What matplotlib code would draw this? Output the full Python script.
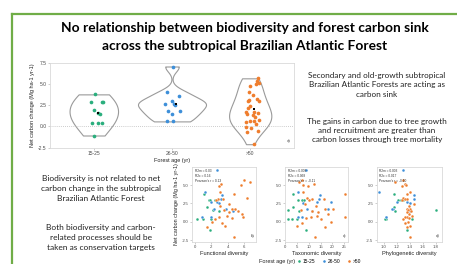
import numpy as np
import matplotlib
matplotlib.use("Agg")
import matplotlib.pyplot as plt
from matplotlib.lines import Line2D

W, H = 457, 264

# ---------------- data ----------------
ages = ["15-25", "26-50", ">50"]
colors = ["#2aae7d", "#3d8fd9", "#ef7d2d"]

y_young = [3.8, 2.9, 2.95, 2.95, 1.98, 1.6, 1.5, 0.36, 0.36, 0.36, -1.07]
y_mid = [7.1, 4.05, 3.65, 3.05, 2.7, 2.7, 2.6, 1.8, 1.45, 1.8, 0.6, 0.7]
y_old = [5.7, 5.35, 5.15, 5.05, 4.85, 4.1, 3.75, 3.2, 3.05, 3.1, 2.97, 2.45,
         2.15, 1.7, 1.7, 1.63, 1.43, 1.3, 1.1, 0.8, 0.63, 0.6, 0.5, 0.32,
         -0.08, -0.2, -0.55, -0.7, -2.1]

jit_young = [0.01, -0.03, 0.10, 0.115, 0.0, 0.05, 0.08, -0.02, 0.05, 0.10, 0.0]
jit_mid = [0.01, -0.06, 0.09, 0.0, -0.09, 0.02, 0.04, -0.05, 0.0, 0.10, -0.06, 0.01]
jit_old = [0.10, 0.09, 0.115, 0.08, 0.0, -0.01, 0.04, 0.09, 0.11, -0.01, -0.03, 0.0,
           -0.03, -0.05, 0.05, 0.10, -0.04, 0.03, 0.06, 0.11, 0.05, 0.0, -0.06, 0.07,
           -0.05, 0.01, 0.10, -0.04, 0.05]

fd_young = [1.1, 1.65, 2.4, 1.8, 1.45, 2.25, 2.9, 0.3, 0.95, 1.9, 1.8]
fd_mid = [2.66, 1.23, 3.27, 3.19, 2.74, 1.9, 2.9, 2.33, 4.62, 3.76, 0.9, 1.92]
fd_old = [5.93, 6.75, 3.19, 5.64, 2.98, 3.0, 4.79, 6.34, 2.8, 3.4, 2.6, 4.09,
          3.1, 4.5, 4.91, 3.6, 5.3, 4.2, 5.8, 3.9, 5.85, 2.9, 4.5, 2.45,
          2.04, 3.3, 3.68, 1.51, 4.82]

td_young = [3.4, 7.1, 5.2, 8.0, 3.1, 0.9, 5.6, 0.9, 2.6, 4.9, 9.0]
td_mid = [8.8, 5.3, 14.9, 14.4, 13.4, 19.6, 7.5, 18.1, 11.5, 9.3, 7.1, 5.2]
td_old = [7.1, 5.6, 12.2, 7.6, 9.5, 7.5, 25.4, 9.3, 11.5, 16.3, 10.0, 8.2,
          13.0, 16.8, 20.5, 6.5, 11.5, 14.0, 18.0, 13.7, 25.4, 10.8, 9.0, 15.2,
          19.3, 7.1, 4.9, 17.0, 12.5]

pd_young = [1.16, 1.26, 1.30, 1.22, 1.15, 1.80, 1.17, 1.04, 1.01, 1.43, 1.36]
pd_mid = [1.29, 0.93, 1.46, 1.46, 1.20, 1.36, 1.40, 1.14, 1.40, 1.13, 1.04, 1.03]
pd_old = [1.30, 1.17, 1.33, 1.34, 1.28, 1.41, 1.36, 1.30, 1.32, 1.36, 1.28, 1.46,
          1.38, 1.36, 1.40, 1.37, 1.42, 1.35, 1.38, 1.44, 1.36, 1.33, 1.39, 1.30,
          1.37, 1.32, 1.41, 1.35, 1.41]

stats_b = ["R2m = 0.03", "R2c = 0.16", "Pearson's r = 0.13"]
stats_c = ["R2m = 0.009", "R2c = 0.068", "Pearson's r = -0.11"]
stats_d = ["R2m = 0.003", "R2c = 0.017", "Pearson's r = -0.10"]

title_lines = ["No relationship between biodiversity and forest carbon sink",
               "across the subtropical Brazilian Atlantic Forest"]
right_text1 = "Secondary and old-growth subtropical\nBrazilian Atlantic Forests are acting as\ncarbon sink"
right_text2 = "The gains in carbon due to tree growth\nand recruitment are greater than\ncarbon losses through tree mortality"
left_text1 = "Biodiversity is not related to net\ncarbon change in the subtropical\nBrazilian Atlantic Forest"
left_text2 = "Both biodiversity and carbon-\nrelated processes should be\ntaken as conservation targets"

ylab = "Net carbon change (Mg ha-1 yr-1)"

# ---------------- helpers ----------------
def fx(x):
    return x / W

def fy(y):
    return 1 - y / H

def axes_px(x0, y0, x1, y1):
    return fig.add_axes([fx(x0), fy(y1), (x1 - x0) / W, (y1 - y0) / H])

def nrd0(adjust):
    def f(kde):
        d = np.asarray(kde.dataset).ravel()
        sd = np.std(d, ddof=1)
        iqr = np.subtract(*np.percentile(d, [75, 25]))
        lo = min(sd, iqr / 1.34)
        bw = adjust * 0.9 * lo * len(d) ** (-0.2)
        return bw / sd
    return f

CH = "Liberation Sans"
BODY = "Lato"
GREY = "#4d4d4d"
FRAME = "#d9d9d9"

def style_ax(ax, fs):
    for s in ax.spines.values():
        s.set_color(FRAME)
        s.set_linewidth(0.6)
    ax.tick_params(length=1.2, width=0.4, color="#aaaaaa", pad=1.2,
                   labelsize=fs, labelcolor=GREY)
    for lab in ax.get_xticklabels() + ax.get_yticklabels():
        lab.set_family(CH)

fig = plt.figure(figsize=(W / 100, H / 100), dpi=100)

# green frame
fig.add_artist(Line2D([fx(12), fx(457)], [fy(13.5), fy(13.5)], color="#70ad47", lw=1.6))
fig.add_artist(Line2D([fx(12), fx(12)], [fy(13.5), fy(264)], color="#70ad47", lw=1.6))

# title
fig.text(fx(245), fy(28.5), title_lines[0], ha="center", va="center",
         family=BODY, weight="bold", fontsize=9.9, color="black")
fig.text(fx(245), fy(46), title_lines[1], ha="center", va="center",
         family=BODY, weight="bold", fontsize=9.9, color="black")

# body texts
fig.text(fx(377), fy(85), right_text1, ha="center", va="center", family=BODY,
         fontsize=5.9, linespacing=1.35, color="#222222")
fig.text(fx(377), fy(130.5), right_text2, ha="center", va="center", family=BODY,
         fontsize=5.9, linespacing=1.35, color="#222222")
fig.text(fx(101), fy(188.5), left_text1, ha="center", va="center", family=BODY,
         fontsize=6.0, linespacing=1.45, color="#222222")
fig.text(fx(101), fy(237.5), left_text2, ha="center", va="center", family=BODY,
         fontsize=6.0, linespacing=1.45, color="#222222")

# ---------------- violin panel ----------------
groups_y = [y_young, y_mid, y_old]
groups_j = [jit_young, jit_mid, jit_old]
ax = axes_px(50, 62.7, 294, 148)
pos = [0, 1, 2]
vwidths = [0.62, 0.87, 0.54]
adjusts = [1.7, 1.0, 1.3]
for i in range(3):
    vp = ax.violinplot([groups_y[i]], positions=[pos[i]], widths=vwidths[i],
                       showextrema=False, bw_method=nrd0(adjusts[i]))
    for b in vp["bodies"]:
        b.set_facecolor("white")
        b.set_alpha(1)
        b.set_edgecolor("#9a9a9a")
        b.set_linewidth(0.8)
ax.axhline(0, ls=(0, (1, 1.5)), color="#bbbbbb", lw=0.6, zorder=1)
for i, (ys, js) in enumerate(zip(groups_y, groups_j)):
    ax.scatter(np.array(js) + pos[i], ys, s=7, color=colors[i], lw=0, zorder=3)
    ax.scatter([pos[i] + 0.05], [np.mean(ys)], s=2, marker="s", color="black", lw=0, zorder=4)
ax.set_xlim(-0.56, 2.56)
ax.set_ylim(-2.55, 7.55)
ax.set_xticks(pos)
ax.set_xticklabels(ages)
ax.set_yticks([-2.5, 0, 2.5, 5.0, 7.5])
ax.set_yticklabels(["-2.5", "0.0", "2.5", "5.0", "7.5"])
style_ax(ax, 3.6)
ax.set_xlabel("Forest age (yr)", family=CH, fontsize=4, color="#222222", labelpad=1.5)
ax.set_ylabel(ylab, family=CH, fontsize=4, color="#222222", labelpad=2)
ax.text(0.985, 0.06, "a)", transform=ax.transAxes, ha="right", va="bottom",
        family=CH, fontsize=3.2, color=GREY)

# ---------------- scatter panels ----------------
panels = [
    (192, 256, [fd_young, fd_mid, fd_old], (-0.37, 7.45), [0, 2, 4, 6], ["0", "2", "4", "6"],
     "Functional diversity", stats_b, "b)"),
    (285, 348.3, [td_young, td_mid, td_old], (-0.2, 26.9), [0, 5, 10, 15, 20, 25],
     ["0", "5", "10", "15", "20", "25"], "Taxonomic diversity", stats_c, "c)"),
    (376.7, 441.7, [pd_young, pd_mid, pd_old], (0.89, 1.89), [1.0, 1.2, 1.4, 1.6, 1.8],
     ["1.0", "1.2", "1.4", "1.6", "1.8"], "Phylogenetic diversity", stats_d, "d)"),
]
for k, (x0, x1, xs, xl, xt, xtl, xlab, st, plab) in enumerate(panels):
    a = axes_px(x0, 167, x1, 242)
    for i in range(3):
        a.scatter(xs[i], groups_y[i], s=4.5, color=colors[i], edgecolor="white",
                  lw=0.25, zorder=3)
    a.set_xlim(*xl)
    a.set_ylim(-2.75, 7.45)
    a.set_xticks(xt)
    a.set_xticklabels(xtl)
    a.set_yticks([-2.5, 0, 2.5, 5.0])
    a.set_yticklabels(["-2.5", "0.0", "2.5", "5.0"])
    style_ax(a, 3.1)
    a.set_xlabel(xlab, family=CH, fontsize=4.1, color="#222222", labelpad=1.2)
    if k == 0:
        a.set_ylabel(ylab, family=CH, fontsize=3.9, color="#222222", labelpad=1.5)
    a.text(0.04, 0.97, "\n".join(st), transform=a.transAxes, ha="left", va="top",
           family=CH, fontsize=2.3, color="#333333", linespacing=1.25)
    a.text(0.97, 0.05, plab, transform=a.transAxes, ha="right", va="bottom",
           family=CH, fontsize=3.2, color=GREY)

# legend
fig.text(fx(259), fy(261.5), "Forest age (yr)", ha="left", va="center",
         family=CH, fontsize=4, color="#222222")
handles = [Line2D([], [], ls="none", marker="o", ms=2.2, color=c, mec="white", mew=0.3)
           for c in colors]
leg = fig.legend(handles, ages, loc="center left", bbox_to_anchor=(fx(297), fy(261.5)),
                 ncol=3, frameon=False, handlelength=0.8, handletextpad=0.4,
                 columnspacing=1.3, borderpad=0, borderaxespad=0,
                 prop={"family": CH, "size": 3.5})

fig.savefig("out.png", dpi=100)
